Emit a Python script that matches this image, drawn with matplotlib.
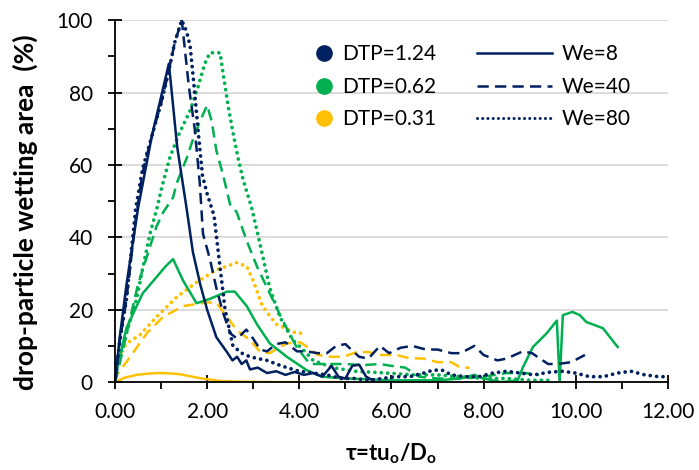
import matplotlib
matplotlib.use('Agg')
import matplotlib.pyplot as plt
from matplotlib.lines import Line2D
from matplotlib.ticker import MultipleLocator, FormatStrFormatter

plt.rcParams['font.family'] = ['Lato', 'DejaVu Sans']
plt.rcParams['mathtext.fontset'] = 'custom'
plt.rcParams['mathtext.bf'] = 'Lato:bold'

navy = '#002060'
green = '#00b050'
yellow = '#ffc000'

# DTP=1.24
n8_x = [0, 0.1, 0.25, 0.5, 0.8, 1.17, 1.35, 1.56, 1.69, 1.85, 2.0, 2.2, 2.43, 2.55, 2.65, 2.75, 2.85, 2.93,
        3.1, 3.3, 3.5, 3.7, 3.9, 4.1, 4.3, 4.5, 4.7, 4.85, 5.0, 5.15, 5.3, 5.45, 5.6]
n8_y = [0, 12, 27, 48, 68, 88, 65, 47.5, 36, 27, 20, 12.4, 8.3, 6, 7, 5, 6, 3.5,
        4, 2.5, 3, 2, 2.8, 2, 2.5, 1.5, 4.5, 1.5, 1, 4.5, 4.8, 1.5, 0.5]
n40_x = [0, 0.1, 0.25, 0.45, 0.6, 0.8, 1.0, 1.15, 1.3, 1.45, 1.6, 1.73, 1.84, 1.91, 2.06, 2.2, 2.35, 2.5, 2.65,
         2.85, 3.0, 3.15, 3.3, 3.5, 3.7, 3.95, 4.15, 4.4, 4.6, 4.8, 5.0, 5.3, 5.5, 5.75, 5.95, 6.2, 6.45, 6.75,
         7.0, 7.3, 7.5, 7.8, 8.0, 8.3, 8.5, 8.85, 9.05, 9.4, 9.6, 9.9, 10.2]
n40_y = [0, 11, 23, 45, 58, 68, 77, 85, 94, 100, 82, 70, 55, 41, 34, 26, 19, 13.5, 12,
         14.5, 12, 9, 8.5, 10.5, 11, 8.5, 8.5, 8, 8, 10, 10.5, 7, 6.5, 10, 8, 9.5, 10, 9,
         9, 8, 8, 10, 7.5, 6, 6.5, 8.5, 8, 5, 5, 5.5, 7.5]
n80_x = [0, 0.1, 0.25, 0.45, 0.6, 0.8, 1.0, 1.15, 1.3, 1.45, 1.55, 1.63, 1.7, 1.8, 1.9, 2.0, 2.15, 2.25, 2.39,
         2.56, 2.75, 2.93, 3.1, 3.3, 3.5, 3.73, 4.0, 4.3, 4.6, 4.9, 5.2, 5.5, 5.8, 6.1, 6.4, 6.7, 6.9, 7.1,
         7.3, 7.6, 7.9, 8.2, 8.5, 8.8, 9.1, 9.4, 9.7, 10.0, 10.3, 10.6, 10.9, 11.2, 11.5, 11.8, 12.0]
n80_y = [0, 11, 23, 48, 59, 68, 77, 85, 94, 100, 97, 93, 84, 70, 57, 52, 46, 35, 20,
         10, 8, 7, 6.5, 6, 5, 4, 3, 2.5, 2, 1, 1, 0.5, 1, 1.5, 1.5, 2.5, 3.3, 3.3,
         2, 1.5, 1.5, 2.5, 3, 2.5, 2, 2.7, 3, 2.5, 1.5, 1.5, 2.5, 3, 2, 1.5, 1.5]

# DTP=0.62
g8_x = [0, 0.05, 0.25, 0.6, 0.9, 1.1, 1.26, 1.48, 1.77, 2.06, 2.43, 2.6, 2.86, 3.08, 3.36, 3.73, 4.16, 4.5,
        5.0, 5.5, 6.0, 6.5, 7.0, 7.5, 7.8, 8.0, 8.2, 8.4, 8.74, 8.85, 9.07, 9.37, 9.59, 9.65, 9.72, 9.93,
        10.09, 10.23, 10.59, 10.91]
g8_y = [0, 4, 15, 24.5, 29, 32, 34, 28, 21.8, 23, 25, 25, 21, 16, 10.7, 7, 3.3, 1.5,
        1, 0.8, 0.5, 0.5, 0.5, 1, 2, 1, 0.5, 0, 0.5, 4, 9.7, 13.5, 17, 0, 18.5, 19.4,
        18.5, 16.6, 14.9, 9.7]
g40_x = [0, 0.1, 0.3, 0.5, 0.7, 0.9, 1.05, 1.26, 1.34, 1.56, 1.69, 1.84, 2.0, 2.1, 2.2, 2.35, 2.5, 2.64, 2.86,
         3.08, 3.36, 3.64, 3.94, 4.23, 4.6, 5.0, 5.4, 5.75, 6.0, 6.3, 6.6, 7.0, 7.5, 8.0, 8.5, 8.9, 9.2]
g40_y = [0, 5, 16, 27, 35, 43, 47, 51, 55, 62, 67, 72, 76.5, 72, 64, 57, 49, 47, 39,
         32, 24.5, 17, 9.7, 5, 5, 5, 4.7, 5, 4.5, 4, 1.5, 1, 1, 1.5, 2.5, 2.5, 2]
g80_x = [0, 0.04, 0.25, 0.47, 0.61, 0.76, 0.91, 1.02, 1.19, 1.37, 1.63, 1.8, 1.95, 2.06, 2.28, 2.35, 2.46, 2.56,
         2.67, 2.78, 2.97, 3.15, 3.36, 3.58, 3.86, 4.16, 4.3, 4.73, 5.2, 5.9, 6.5, 7.0, 7.5, 8.0, 8.5, 9.0, 9.5]
g80_y = [0, 4, 13.5, 23, 32, 41, 48, 54, 62, 68, 75, 81.5, 88, 91, 91, 85, 76, 69,
         62, 56, 48, 38, 26, 18, 11.6, 8, 6, 4, 3, 2.5, 2, 2, 1.5, 1, 1, 0.5, 0.5]

# DTP=0.31
y8_x = [0, 0.2, 0.47, 0.75, 0.97, 1.2, 1.4, 1.84, 2.28, 2.8, 3.5, 4.0, 4.5, 5.0]
y8_y = [0, 1.2, 2, 2.4, 2.5, 2.4, 2.2, 1.1, 0.3, 0.1, 0, 0, 0, 0]
y40_x = [0, 0.04, 0.33, 0.69, 1.04, 1.48, 1.99, 2.2, 2.43, 2.64, 2.93, 3.15, 3.36, 3.55, 3.73, 4.02, 4.2, 4.4,
         4.7, 4.95, 5.25, 5.5, 5.8, 6.1, 6.4, 6.7, 7.0, 7.3, 7.5, 7.7]
y40_y = [0, 2, 7, 13.5, 18, 21, 22, 22, 18, 14.4, 11.6, 8.4, 8, 9.5, 10.7, 11, 9.5, 7.5,
         7, 7, 8.3, 8.3, 7.5, 7.5, 6.6, 6.5, 5.5, 5.5, 4, 4]
y80_x = [0, 0.04, 0.25, 0.54, 0.9, 1.34, 1.77, 2.2, 2.64, 2.86, 3.0, 3.2, 3.5, 3.94, 4.16]
y80_y = [0, 6, 10.7, 13, 18, 23.5, 27.6, 31, 33, 32, 28, 21, 16, 13.5, 13.5]

lw = 1.8
dash = dict(lw=lw, dashes=(4.5, 2.5))
dot = dict(lw=2.7, dashes=(0.01, 1.7), dash_capstyle='round')

fig = plt.figure(figsize=(6.99, 4.70), dpi=100)
ax = fig.add_axes([0.1645, 0.187, 0.791, 0.770])

ax.plot(y8_x, y8_y, color=yellow, lw=lw)
ax.plot(y40_x, y40_y, color=yellow, **dash)
ax.plot(y80_x, y80_y, color=yellow, **dot)
ax.plot(g8_x, g8_y, color=green, lw=lw)
ax.plot(g40_x, g40_y, color=green, **dash)
ax.plot(g80_x, g80_y, color=green, **dot)
ax.plot(n8_x, n8_y, color=navy, lw=lw)
ax.plot(n40_x, n40_y, color=navy, **dash)
ax.plot(n80_x, n80_y, color=navy, **dot)

ax.set_xlim(0, 12)
ax.set_ylim(0, 100)
ax.xaxis.set_major_locator(MultipleLocator(2))
ax.xaxis.set_minor_locator(MultipleLocator(1))
ax.xaxis.set_major_formatter(FormatStrFormatter('%.2f'))
ax.yaxis.set_major_locator(MultipleLocator(20))
ax.yaxis.set_minor_locator(MultipleLocator(10))
ax.grid(axis='y', color='#d9d9d9', lw=1.3, zorder=0)
ax.set_axisbelow(True)
for s in ['top', 'right']:
    ax.spines[s].set_visible(False)
for s in ['left', 'bottom']:
    ax.spines[s].set_linewidth(1.3)
ax.tick_params(axis='both', which='major', direction='inout', length=10, width=1.3, labelsize=15)
ax.tick_params(axis='both', which='minor', direction='out', length=5, width=1.3)
ax.tick_params(axis='x', which='major', pad=9)
ax.tick_params(axis='y', which='major', pad=11)

ax.set_ylabel('drop-particle wetting area  (%)', fontsize=19, fontweight='bold')
ax.yaxis.set_label_coords(-0.14, 0.47)
ax.set_xlabel(r'τ=tu$_\mathbf{o}$/D$_\mathbf{o}$', fontsize=16, fontweight='bold', labelpad=14)

h1 = [Line2D([], [], ls='', marker='o', ms=11, color=c) for c in [navy, green, yellow]]
leg1 = ax.legend(h1, ['DTP=1.24', 'DTP=0.62', 'DTP=0.31'], loc='upper left',
                 bbox_to_anchor=(0.325, 0.985), frameon=False, fontsize=15,
                 handlelength=1.0, handletextpad=0.4, labelspacing=0.6)
ax.add_artist(leg1)
h2 = [Line2D([], [], color=navy, lw=lw),
      Line2D([], [], color=navy, **dash),
      Line2D([], [], color=navy, lw=2.2, dashes=(0.01, 1.7), dash_capstyle='round')]
ax.legend(h2, ['We=8', 'We=40', 'We=80'], loc='upper left',
          bbox_to_anchor=(0.62, 0.985), frameon=False, fontsize=15,
          handlelength=3.6, handletextpad=0.5, labelspacing=0.6)

plt.savefig('out.png', dpi=100)
plt.close()
